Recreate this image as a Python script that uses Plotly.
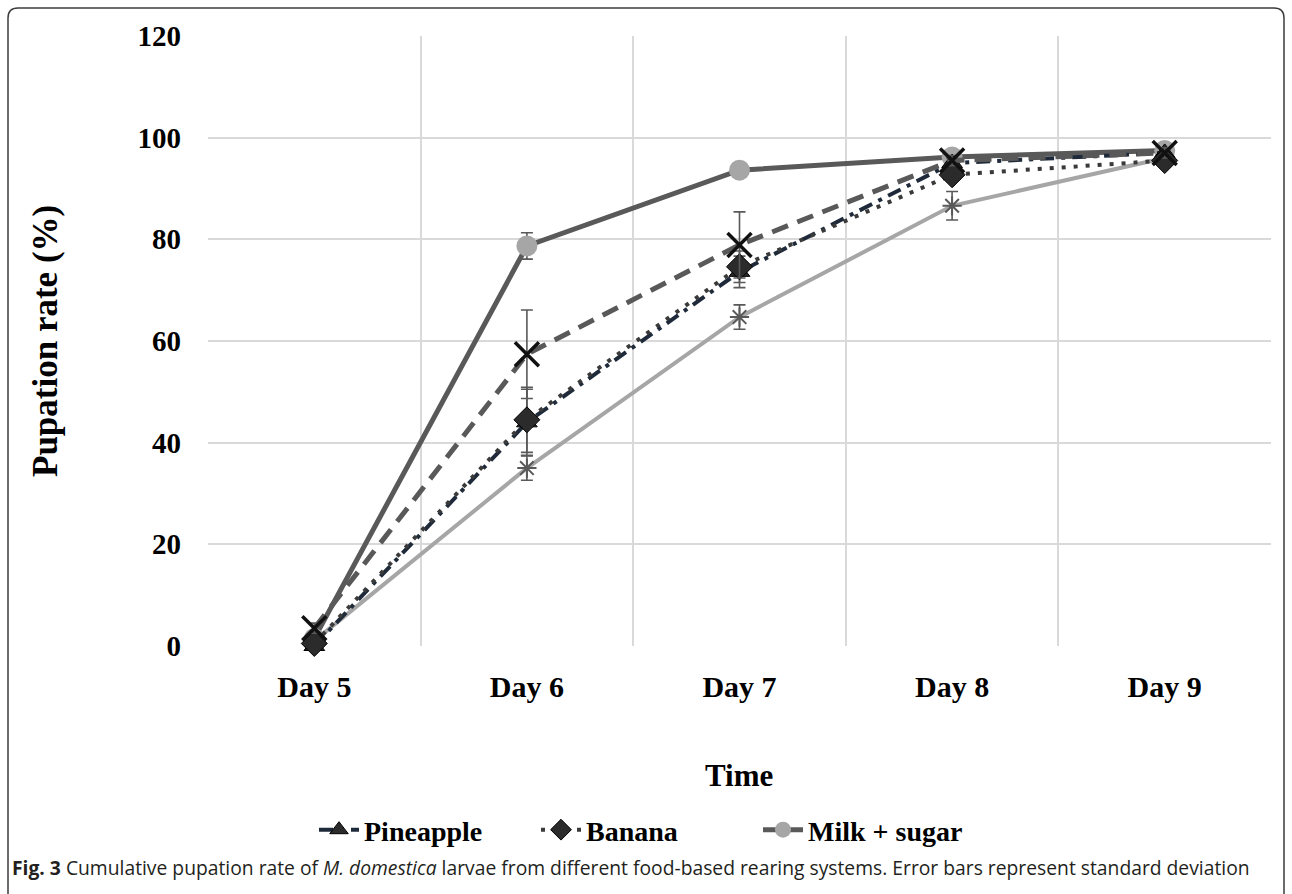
import plotly.graph_objects as go

days = ["Day 5", "Day 6", "Day 7", "Day 8", "Day 9"]

pineapple = [0.0, 44.0, 73.6, 95.0, 97.0]
pineapple_sd = [0.5, 6.5, 3.1, 1.0, 1.0]

banana = [0.5, 44.5, 74.6, 92.7, 95.5]
banana_sd = [0.5, 6.4, 3.1, 1.0, 1.0]

milk_sugar = [1.5, 78.7, 93.6, 96.2, 97.5]
milk_sugar_sd = [0.5, 2.6, 0.5, 0.5, 0.5]

series_x = [3.5, 57.4, 78.9, 95.5, 97.0]
series_x_sd = [1.0, 8.7, 6.5, 1.0, 1.0]

series_star = [1.0, 35.0, 64.7, 86.6, 96.0]
series_star_sd = [0.5, 2.4, 2.4, 2.8, 1.0]

y_ticks = [0, 20, 40, 60, 80, 100, 120]

ERR = "#595959"
SERIF = "Liberation Serif, Times New Roman, serif"


def err(vals):
    return dict(type="data", array=vals, visible=True, color=ERR, thickness=1.6, width=6)


fig = go.Figure()

fig.add_trace(go.Scatter(
    x=days, y=series_star, name="Series 5", showlegend=False, mode="lines+markers",
    line=dict(color="#a6a6a6", width=4),
    marker=dict(symbol="asterisk-open", size=16, color="#595959", line=dict(color="#595959", width=2)),
    error_y=err(series_star_sd), cliponaxis=False))

fig.add_trace(go.Scatter(
    x=days, y=milk_sugar, name="Milk + sugar", mode="lines+markers", legendrank=3,
    line=dict(color="#595959", width=5),
    marker=dict(symbol="circle", size=21, color="#a6a6a6", line=dict(width=0)),
    error_y=err(milk_sugar_sd), cliponaxis=False))

fig.add_trace(go.Scatter(
    x=days, y=pineapple, name="Pineapple", mode="lines+markers", legendrank=1,
    line=dict(color="#1e2a3a", width=4, dash="14px,7px,4px,7px"),
    marker=dict(symbol="triangle-up", size=18, color="#2b2b2b", line=dict(color="#000000", width=1)),
    error_y=err(pineapple_sd), cliponaxis=False))

fig.add_trace(go.Scatter(
    x=days, y=banana, name="Banana", mode="lines+markers", legendrank=2,
    line=dict(color="#3a3a3a", width=4, dash="4px,8px"),
    marker=dict(symbol="diamond", size=20, color="#2b2b2b", line=dict(color="#000000", width=1)),
    error_y=err(banana_sd), cliponaxis=False))

fig.add_trace(go.Scatter(
    x=days, y=series_x, name="Series 4", showlegend=False, mode="lines+markers",
    line=dict(color="#595959", width=5, dash="17px,10px"),
    marker=dict(symbol="x-thin-open", size=24, color="#111111", line=dict(color="#111111", width=3.5)),
    error_y=err(series_x_sd), cliponaxis=False))

# Figure border (rounded frame)
L, T, R, B = 208, 36, 1271, 646
W, H = R - L, B - T


def px(x):
    return (x - L) / W


def py(y):
    return (B - y) / H


x0, y0, x1, y1, r = 8, 8, 1284, 905, 10
path = (f"M {px(x0)},{py(y0 + r)} Q {px(x0)},{py(y0)} {px(x0 + r)},{py(y0)} "
        f"L {px(x1 - r)},{py(y0)} Q {px(x1)},{py(y0)} {px(x1)},{py(y0 + r)} "
        f"L {px(x1)},{py(y1)} M {px(x0)},{py(y0 + r)} L {px(x0)},{py(y1)}")

fig.update_layout(
    width=1292, height=894,
    margin=dict(l=L, r=1292 - R, t=T, b=894 - B),
    paper_bgcolor="white", plot_bgcolor="white",
    font=dict(family=SERIF, color="#000000"),
    showlegend=True,
    legend=dict(orientation="h", x=px(314), xanchor="left", y=py(830), yanchor="middle",
                font=dict(family=SERIF, size=28, color="#000000", weight="bold"),
                traceorder="normal", entrywidth=167, itemwidth=40,
                bgcolor="rgba(0,0,0,0)"),
    xaxis=dict(type="category", categoryorder="array", categoryarray=days,
               tickson="boundaries", showgrid=True, gridcolor="#d9d9d9", gridwidth=1.5,
               showline=False, zeroline=False, ticks="", ticklabelstandoff=20,
               tickfont=dict(family=SERIF, size=30, color="#000000", weight="bold"),
               range=[-0.5, 4.5]),
    yaxis=dict(range=[0, 120], tickvals=y_ticks, showgrid=True, gridcolor="#d9d9d9",
               gridwidth=1.5, zeroline=False, showline=False, ticks="",
               ticklabelstandoff=26,
               tickfont=dict(family=SERIF, size=29, color="#000000", weight="bold")),
    shapes=[dict(type="path", xref="paper", yref="paper", path=path,
                 line=dict(color="#3c3c3c", width=1.5), fillcolor="rgba(0,0,0,0)", layer="above")],
    annotations=[
        dict(text="<b>Pupation rate (%)</b>", xref="paper", yref="paper",
             x=px(45), y=py(341), textangle=-90, showarrow=False,
             font=dict(family=SERIF, size=35, color="#000000"),
             xanchor="center", yanchor="middle"),
        dict(text="<b>Time</b>", xref="paper", yref="paper",
             x=px(739), y=py(775), showarrow=False,
             font=dict(family=SERIF, size=31, color="#000000"),
             xanchor="center", yanchor="middle"),
        dict(text="<b>Fig. 3</b> Cumulative pupation rate of <i>M. domestica</i> larvae from different "
                  "food-based rearing systems. Error bars represent standard deviation",
             xref="paper", yref="paper", x=px(10), y=py(867), showarrow=False,
             font=dict(family="Open Sans, sans-serif", size=19.3, color="#231f20"),
             xanchor="left", yanchor="middle"),
    ],
)

fig.write_html("out.html", config={"displayModeBar": False},
               post_script="document.body.style.margin='0';")
